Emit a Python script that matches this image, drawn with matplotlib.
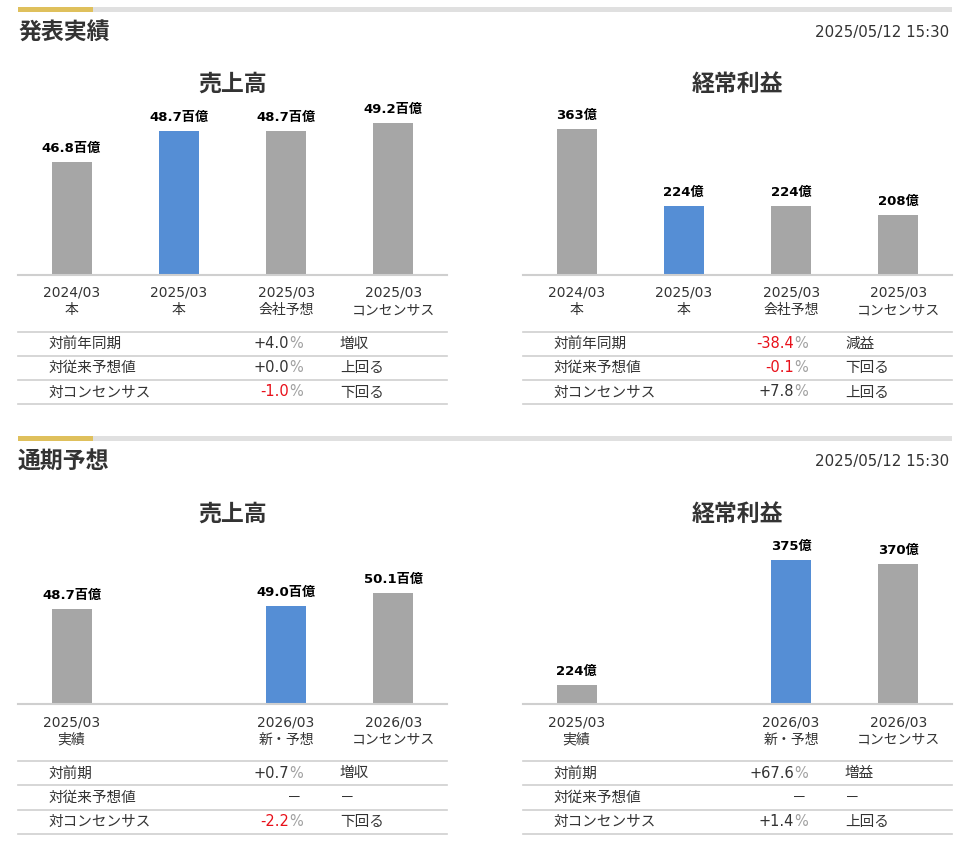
import numpy as np
import matplotlib
matplotlib.use('Agg')
import matplotlib.pyplot as plt
from matplotlib.patches import Rectangle

# latin glyphs in DejaVu (close to Verdana), japanese falls back to Noto CJK
plt.rcParams['font.family'] = ['DejaVu Sans', 'Noto Sans CJK JP']

# ---- data ----
stamp = '2025/05/12 15:30'

top_labels = ['2024/03\n本', '2025/03\n本', '2025/03\n会社予想', '2025/03\nコンセンサス']
top_sales = [46.8, 48.7, 48.7, 49.2]
top_profit = [363, 224, 224, 208]
top_rows = ['対前年同期', '対従来予想値', '対コンセンサス']
top_sales_pct = ['+4.0', '+0.0', '-1.0']
top_sales_judge = ['増収', '上回る', '下回る']
top_profit_pct = ['-38.4', '-0.1', '+7.8']
top_profit_judge = ['減益', '下回る', '上回る']

bot_labels = ['2025/03\n実績', '', '2026/03\n新・予想', '2026/03\nコンセンサス']
bot_sales = [48.7, np.nan, 49.0, 50.1]
bot_profit = [224, np.nan, 375, 370]
bot_rows = ['対前期', '対従来予想値', '対コンセンサス']
bot_sales_pct = ['+0.7', None, '-2.2']
bot_sales_judge = ['増収', '－', '下回る']
bot_profit_pct = ['+67.6', None, '+1.4']
bot_profit_judge = ['増益', '－', '上回る']

W, H = 978, 857
GRAY = '#a6a6a6'
BLUE = '#558ed5'
LINE = '#cfcfcf'
TXT = '#333333'
RED = '#e8101a'

fig = plt.figure(figsize=(W / 100, H / 100), dpi=100)


def fx(x):
    return x / W


def fy(y):
    return 1 - y / H


def header(y, title):
    fig.patches.append(Rectangle((fx(18), fy(y + 2.5)), (952 - 18) / W, 5 / H,
                                 transform=fig.transFigure, color='#e0e0e0', lw=0))
    fig.patches.append(Rectangle((fx(18), fy(y + 2.5)), (93 - 18) / W, 5 / H,
                                 transform=fig.transFigure, color='#dfc05c', lw=0))
    fig.text(fx(18), fy(y + 23), title, fontsize=16.5, fontweight='bold',
             color=TXT, ha='left', va='center')
    fig.text(fx(949), fy(y + 23), stamp, fontsize=10.8, color=TXT,
             ha='right', va='center')


def chart(x0, base, top, title, labels, values, hi, ylim, unit, fmt):
    ax = fig.add_axes([fx(x0), fy(base), 429 / W, (base - top) / H])
    colors = [BLUE if i == hi else GRAY for i in range(len(values))]
    xs = np.arange(len(values))
    ax.bar(xs, values, width=0.375, color=colors)
    for x, v in zip(xs, values):
        if np.isnan(v):
            continue
        ax.annotate(fmt.format(v) + unit, (x, v), xytext=(0, 5),
                    textcoords='offset points', ha='center', va='bottom',
                    fontsize=9.5, fontweight='bold', color='black')
    ax.set_xlim(-0.5, len(values) - 0.5)
    ax.set_ylim(*ylim)
    ax.set_xticks(xs)
    ax.set_xticklabels(labels, fontsize=10, color=TXT, linespacing=1.3)
    ax.tick_params(axis='x', length=0, pad=8)
    ax.set_yticks([])
    for s in ['top', 'left', 'right']:
        ax.spines[s].set_visible(False)
    ax.spines['bottom'].set_color(LINE)
    ax.spines['bottom'].set_linewidth(1.5)
    fig.text(fx(x0 + 214.5), fy(top - 16), title, fontsize=16.5, fontweight='bold',
             color=TXT, ha='center', va='center')


def table(x0, ys, rows, pcts, judges):
    for y in ys:
        fig.add_artist(plt.Line2D([fx(x0), fx(x0 + 429)], [fy(y), fy(y)],
                                  color=LINE, lw=1.2))
    for i, (r, p, j) in enumerate(zip(rows, pcts, judges)):
        yc = fy((ys[i] + ys[i + 1]) / 2)
        fig.text(fx(x0 + 31), yc, r, fontsize=10.5, color=TXT, ha='left', va='center')
        if p is None:
            fig.text(fx(x0 + 284), yc, '－', fontsize=10.5, color=TXT,
                     ha='right', va='center')
        else:
            c = RED if p.startswith('-') else TXT
            fig.text(fx(x0 + 271), yc, p, fontsize=10.5, color=c,
                     ha='right', va='center')
            fig.text(fx(x0 + 271), yc, '%', fontsize=10.5, color='#a0a0a0',
                     ha='left', va='center')
        fig.text(fx(x0 + 322), yc, j, fontsize=10.5, color=TXT, ha='left', va='center')


# ---- 発表実績 ----
header(9, '発表実績')
chart(18, 274.7, 100, '売上高', top_labels, top_sales, 1, (39.8, 50.65), '百億', '{:.1f}')
chart(523, 274.7, 100, '経常利益', top_labels, top_profit, 1, (101, 415), '億', '{:.0f}')
table(18, [331.7, 355.7, 380, 404], top_rows, top_sales_pct, top_sales_judge)
table(523, [331.7, 355.7, 380, 404], top_rows, top_profit_pct, top_profit_judge)

# ---- 通期予想 ----
header(438, '通期予想')
chart(18, 704.3, 530, '売上高', bot_labels, bot_sales, 2, (40.69, 55.39), '百億', '{:.1f}')
chart(523, 704.3, 530, '経常利益', bot_labels, bot_profit, 2, (200.7, 411), '億', '{:.0f}')
table(18, [760.7, 785.3, 809.7, 834], bot_rows, bot_sales_pct, bot_sales_judge)
table(523, [760.7, 785.3, 809.7, 834], bot_rows, bot_profit_pct, bot_profit_judge)

fig.savefig('out.png', dpi=100, facecolor='white')
